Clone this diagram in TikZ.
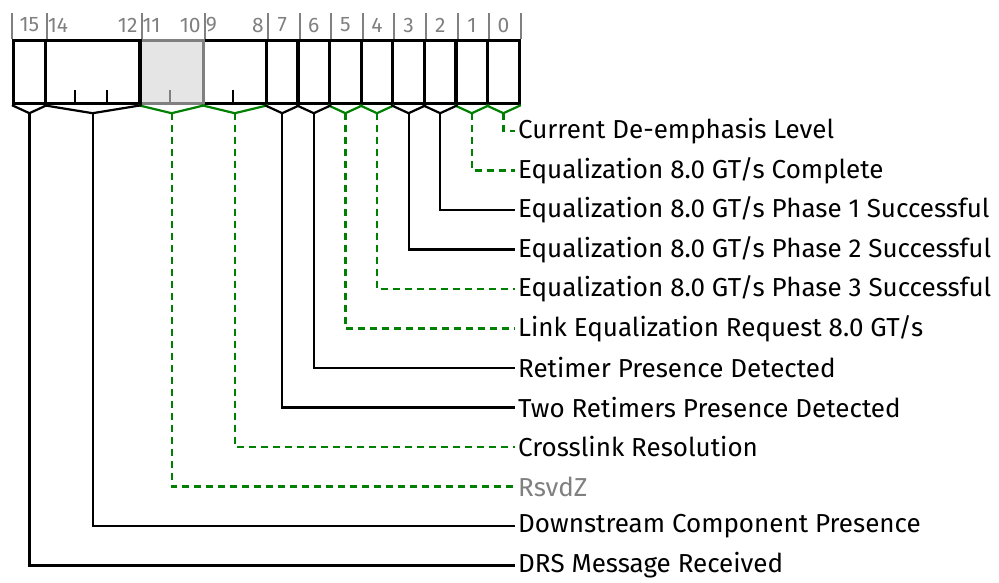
\documentclass[tikz,border=0pt]{standalone}
\usepackage{fontspec}
\setmainfont{Fira Sans}
\usepackage{xcolor}
\usetikzlibrary{calc,positioning}

\definecolor{rwgreen}{RGB}{0,128,0}
\definecolor{rsvdgray}{RGB}{128,128,128}

\begin{document}
\begin{tikzpicture}[x=1pt, y=-1pt,
  field/.style={draw, line width=3.2pt, minimum height=63pt,
                inner sep=0pt, anchor=north west},
  rsvdfield/.style={field, draw=rsvdgray, fill=black!10},
  bitnum/.style={font=\fontsize{21}{21}\selectfont, text=rsvdgray, inner sep=0pt},
  desc/.style={font=\fontsize{26}{26}\selectfont, anchor=west, inner sep=3pt},
  numline/.style={line width=2pt, rsvdgray},
  tick/.style={line width=2.2pt},
  roconn/.style={line width=2.2pt},
  rwvee/.style={line width=2.2pt, rwgreen},
  rwconn/.style={line width=2.2pt, rwgreen, dash pattern=on 7pt off 5pt}
]
\useasboundingbox (0,0) rectangle (999,582);

%--- register fields (drawn from bit 0 up) ---
\foreach \b in {0,...,7}
  \node[field, minimum width=31.6pt] (f\b) at ({12+(15-\b)*31.6},39) {};
\node[field, minimum width=63.2pt] (f8) at (201.6,39) {};
\node[rsvdfield, minimum width=63.2pt] (f10) at (138.4,39) {};
\node[field, minimum width=94.8pt] (f12) at (43.6,39) {};
\node[field, minimum width=31.6pt] (f15) at (12,39) {};

% ticks inside multi-bit fields
\draw[tick] ($(f8.south west)+(31.6,0)$) -- ++(0,-15);
\draw[tick, rsvdgray] ($(f10.south west)+(31.6,0)$) -- ++(0,-15);
\draw[tick] ($(f12.south west)+(31.6,0)$) -- ++(0,-15);
\draw[tick] ($(f12.south west)+(63.2,0)$) -- ++(0,-15);

%--- bit numbers ---
\draw[numline] (f15.north west) -- ++(0,-26);
\foreach \f in {0,...,7,8,10,12,15}
  \draw[numline] (f\f.north east) -- ++(0,-26);
\foreach \b in {0,...,7}
  \node[bitnum] (n\b) at ($(f\b.north)+(0,-14)$) {\b};
\node[bitnum, anchor=west] (n9) at ($(f8.north west)+(4,-14)$) {9};
\node[bitnum, anchor=east] (n8) at ($(f8.north east)+(-4,-14)$) {8};
\node[bitnum, anchor=west] (n11) at ($(f10.north west)+(4,-14)$) {11};
\node[bitnum, anchor=east] (n10) at ($(f10.north east)+(-4,-14)$) {10};
\node[bitnum, anchor=west] (n14) at ($(f12.north west)+(4,-14)$) {14};
\node[bitnum, anchor=east] (n12) at ($(f12.north east)+(-4,-14)$) {12};
\node[bitnum] (n15) at ($(f15.north)+(0,-14)$) {15};

%--- descriptions ---
\node[desc] (d0) at (515,131) {Current De-emphasis Level};
\node[desc] (d1) at (515,170.5) {Equalization 8.0 GT/s Complete};
\node[desc] (d2) at (515,210) {Equalization 8.0 GT/s Phase 1 Successful};
\node[desc] (d3) at (515,249.5) {Equalization 8.0 GT/s Phase 2 Successful};
\node[desc] (d4) at (515,289) {Equalization 8.0 GT/s Phase 3 Successful};
\node[desc] (d5) at (515,328.5) {Link Equalization Request 8.0 GT/s};
\node[desc] (d6) at (515,368) {Retimer Presence Detected};
\node[desc] (d7) at (515,407.5) {Two Retimers Presence Detected};
\node[desc] (d8) at (515,447) {Crosslink Resolution};
\node[desc, text=rsvdgray] (d10) at (515,486.5) {RsvdZ};
\node[desc] (d12) at (515,526) {Downstream Component Presence};
\node[desc] (d15) at (515,565.5) {DRS Message Received};

%--- connectors: RW fields (green, dashed) ---
\foreach \f in {0,1,4,5,8,10} {
  \draw[rwvee] (f\f.south west) -- ($(f\f.south)+(0,8)$) coordinate (v\f)
    -- (f\f.south east);
  \draw[rwconn] (v\f) |- (d\f.west);
}

%--- connectors: RO fields (black, solid) ---
\foreach \f in {2,3,6,7,12,15} {
  \draw[roconn] (f\f.south west) -- ($(f\f.south)+(0,8)$) coordinate (v\f)
    -- (f\f.south east);
  \draw[roconn] (v\f) |- (d\f.west);
}

\end{tikzpicture}
\end{document}
